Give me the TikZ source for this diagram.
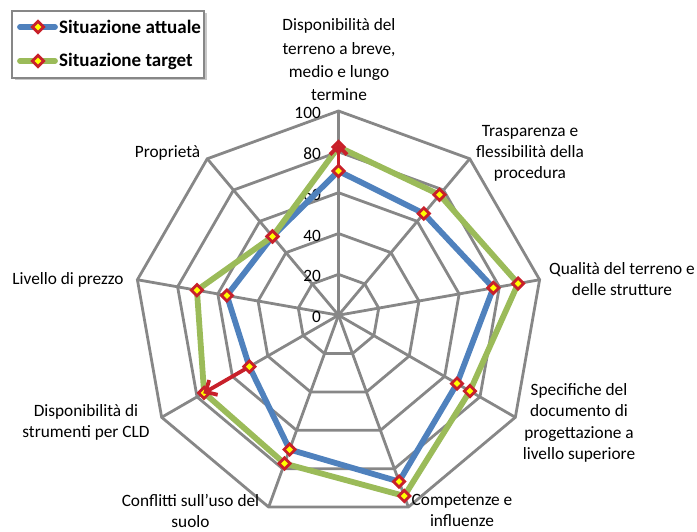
\documentclass[tikz,border=0pt]{standalone}
\usepackage{fontspec}
\setmainfont{Carlito}
\usetikzlibrary{arrows.meta,calc}
\definecolor{gridgray}{HTML}{878787}
\definecolor{serblue}{HTML}{4F81BD}
\definecolor{sergreen}{HTML}{9BBB59}
\definecolor{mkred}{HTML}{C8202A}
\definecolor{mkyellow}{HTML}{FFFF00}
\definecolor{shadowgray}{HTML}{C8C8C8}
\tikzset{
  gridline/.style={draw=gridgray,line width=2.8pt,line join=miter},
  serA/.style={draw=serblue,line width=5.8pt,line join=round},
  serB/.style={draw=sergreen,line width=5.8pt,line join=round},
  mkstyle/.style={draw=mkred,fill=mkyellow,line width=2.8pt,line join=miter},
  marker/.pic={\path[mkstyle] (0,5.6)--(5.6,0)--(0,-5.6)--(-5.6,0)--cycle;},
  lbl/.style={inner sep=0pt,align=center,font=\fontsize{17.3}{21}\selectfont},
  tick/.style={inner sep=0pt,anchor=east,font=\fontsize{17.3}{21}\selectfont},
  legtext/.style={inner sep=0pt,anchor=west,font=\fontsize{19}{21}\selectfont\bfseries},
  arr/.style={draw=mkred,line width=3.8pt,-{Straight Barb[length=9pt,width=17pt]}}
}
\begin{document}
\begin{tikzpicture}[x=1pt,y=1pt]
\useasboundingbox (0,0) rectangle (697,531);
\coordinate (C) at (338.5,215.8);
% grid rings
\foreach \r in {20,40,60,80,100}
  \draw[gridline] ($(C)+(90:\r*2.042)$) \foreach \i in {1,...,8} { -- ($(C)+({90-40*\i}:\r*2.042)$) } -- cycle;
% axes
\foreach \i in {0,...,8}
  \draw[gridline] (C) -- ($(C)+({90-40*\i}:204.2)$);
% tick labels
\foreach \r in {0,20,40,60,80,100}
  \node[tick] (t\r) at (321,{215.8+\r*2.042-2}) {\r};
% data points
\foreach \v [count=\i from 0] in {70.6,65,77,67,86.7,70,50.4,55.5,50.3}
  \coordinate (a\i) at ($(C)+({90-40*\i}:{\v*2.042})$);
\foreach \v [count=\i from 0] in {82.4,77,89.3,74.3,94.2,77.3,76,70.4,50.3}
  \coordinate (b\i) at ($(C)+({90-40*\i}:{\v*2.042})$);
% series
\draw[serA] (a0)--(a1)--(a2)--(a3)--(a4)--(a5)--(a6)--(a7)--(a8)--cycle;
\foreach \i in {0,...,8} \pic at (a\i) {marker};
\draw[serB] (b0)--(b1)--(b2)--(b3)--(b4)--(b5)--(b6)--(b7)--(b8)--cycle;
\foreach \i in {0,...,8} \pic at (b\i) {marker};
% arrows
\draw[arr,shorten <=4pt,shorten >=-4pt] (a0) -- (b0);
\draw[arr,shorten <=4pt,shorten >=-1pt] (a6) -- (b6);
% axis labels
\node[lbl,font=\fontsize{17.3}{23.3}\selectfont] (l1) at (339,471) {Disponibilità del\\terreno a breve,\\medio e lungo\\termine};
\node[lbl,font=\fontsize{17.3}{20.8}\selectfont] (l2) at (530,377.6) {Trasparenza e\\flessibilità della\\procedura};
\node[lbl] (l3) at (622,251.5) {Qualità del terreno e\\delle strutture};
\node[lbl,font=\fontsize{17.3}{21.4}\selectfont] (l4) at (579,108.3) {Specifiche del\\documento di\\progettazione a\\livello superiore};
\node[lbl] (l5) at (462,20.5) {Competenze e\\influenze};
\node[lbl] (l6) at (190.5,20.5) {Conflitti sull’uso del\\suolo};
\node[lbl] (l7) at (86,108.5) {Disponibilità di\\strumenti per CLD};
\node[lbl] (l8) at (68,251) {Livello di prezzo};
\node[lbl] (l9) at (167.5,378) {Proprietà};
% legend
\fill[shadowgray] (14.5,450.5) rectangle (206.5,517.5);
\draw[draw=gridgray,line width=2.4pt,fill=white] (12,453) rectangle (204,520);
\coordinate (la1) at (20,504);
\coordinate (la2) at (55,504);
\coordinate (lb1) at (20,470);
\coordinate (lb2) at (55,470);
\draw[serA,line cap=round] (la1) -- (la2);
\pic at (38,504) {marker};
\node[legtext] (lt1) at (59,504) {Situazione attuale};
\draw[serB,line cap=round] (lb1) -- (lb2);
\pic at (38,470) {marker};
\node[legtext] (lt2) at (59,470) {Situazione target};
\end{tikzpicture}
\end{document}
